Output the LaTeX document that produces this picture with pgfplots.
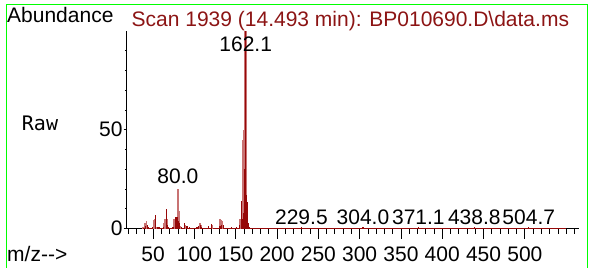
\documentclass[border=0pt]{standalone}
\usepackage{pgfplots}
\pgfplotsset{compat=1.18}
\usepackage{fontspec}
\setmainfont{Liberation Sans}
\newfontfamily\monofont{DejaVu Sans Mono}
\definecolor{dred}{RGB}{150,8,8}
\definecolor{lred}{RGB}{200,115,115}
\definecolor{tred}{RGB}{140,20,20}
\definecolor{framegreen}{RGB}{0,255,0}
\newcommand\fs{\fontsize{21bp}{25bp}\selectfont}
\begin{document}
\begin{tikzpicture}
\useasboundingbox (0bp,0bp) rectangle (591bp,268bp);
\draw[framegreen, line width=1bp] (6.7bp,-2bp) -- (6.7bp,263.7bp) -- (587.7bp,263.7bp) -- (587.7bp,-2bp);
\begin{axis}[
  at={(126.7bp,39.5bp)}, anchor=south west, scale only axis,
  width=452.6bp, height=197.5bp,
  xmin=18, xmax=565.9, ymin=0, ymax=100,
  clip=false,
  axis x line=bottom, axis y line=left,
  axis line style={-, black, line width=0.8bp},
  xtick={50,100,...,500},
  xticklabels={50,100,150,200,250,300,350,400,450,500},
  minor xtick={20,30,...,560},
  ytick=\empty,
  tick align=outside,
  major tick length=10bp, minor tick length=5bp,
  tick style={black, line width=0.8bp},
  xticklabel style={font=\fs, inner sep=4.5bp, yshift=-3.5bp},
  /pgf/number format/assume math mode=true,
]
\addplot[dred, line width=0.9bp] coordinates {(38,0.2) (550,0.2)};
\addplot[ycomb, lred, line width=1.6bp] coordinates {
(38,1) (40,3) (42,4) (51,4.5) (52,4.7) (55,1) (63,3) (64,4.7) (67,5) (75,5) (76,5)
(80,20) (81,9) (83,1.5) (89,2) (94,1) (107,3) (108,2) (117,1) (121,2) (131,5) (132,4.5)
(133,4) (155,5) (156,3) (159,45) (160,50) (163,55)};
\addplot[ycomb, lred, line width=2.6bp] coordinates {(162,100)};
\addplot[ycomb, dred, line width=1.2bp] coordinates {
(39,0.5) (41,1.5) (43,2) (44,1) (49,0.6) (53,7) (55,1) (57,0.8) (63,1) (66,10) (67,2) (69,1)
(74,1) (77,5.7) (78,3) (79,6) (80,4) (82,3) (84,1) (88,3) (91,1.5) (94,1) (98,0.5)
(103,1) (105,1.5) (107,2) (109,1) (115,0.5) (117,1.5) (121,2.5) (125,0.5) (131,1.5)
(133,2) (135,2) (139,0.5) (145,1) (151,0.8) (155,2) (157,14) (158,5) (160,8) (161,30)
(162,100) (163,17) (164,13.5) (165,3) (166,1) (178,0.5) (191,0.4) (207,0.5)
(229.5,0.6) (253,0.4) (281,0.4) (304,0.6) (327,0.4) (371.1,0.6) (405,0.4) (438.8,0.6) (504.7,0.6)};
\node[font=\fs, anchor=base, inner sep=0] at (axis cs:162.1,89.6) {162.1};
\node[font=\fs, anchor=base, inner sep=0] at (axis cs:80,22.9) {80.0};
\node[font=\fs, anchor=base, inner sep=0] at (axis cs:229.5,1.8) {229.5};
\node[font=\fs, anchor=base, inner sep=0] at (axis cs:304.0,1.8) {304.0};
\node[font=\fs, anchor=base, inner sep=0] at (axis cs:371.1,1.8) {371.1};
\node[font=\fs, anchor=base, inner sep=0] at (axis cs:438.8,1.8) {438.8};
\node[font=\fs, anchor=base, inner sep=0] at (axis cs:504.7,1.8) {504.7};
\end{axis}
\begin{axis}[
  at={(126.7bp,39.5bp)}, anchor=south west, scale only axis,
  width=452.6bp, height=197.5bp,
  xmin=18, xmax=565.9, ymin=0, ymax=100,
  axis y line=left, hide x axis,
  axis line style={-, black, line width=0.8bp},
  ytick={0,50}, yticklabels={0,50},
  minor ytick={10,20,30,40,60,70,80,90},
  tick align=outside,
  major tick length=3bp, minor tick length=1.5bp,
  tick style={black, line width=0.8bp},
  yticklabel style={font=\fs, inner sep=1bp},
  /pgf/number format/assume math mode=true,
]
\addplot[draw=none] coordinates {(100,0)};
\end{axis}
\node[anchor=base west, font=\fs, inner sep=0] at (7bp,245bp) {Abundance};
\node[anchor=base west, font=\fs, text=tred, inner sep=0] at (131.5bp,241.3bp) {Scan 1939 (14.493 min): BP010690.D\textbackslash data.ms};
\node[anchor=base, font=\monofont\fontsize{20bp}{24bp}\selectfont, inner sep=0] at (40bp,137bp) {Raw};
\node[anchor=base west, font=\fs, inner sep=0] at (7bp,7bp) {m/z-{}->};
\end{tikzpicture}
\end{document}
